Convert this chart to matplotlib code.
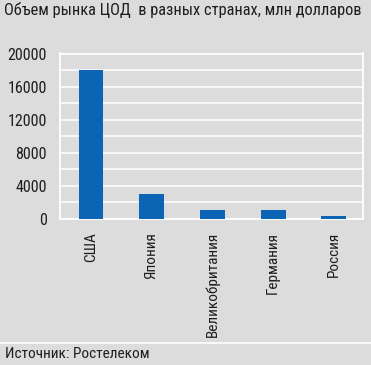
import matplotlib
matplotlib.use("Agg")
import matplotlib.pyplot as plt
import numpy as np

countries = ["США", "Япония", "Великобритания", "Германия", "Россия"]
values = [18000, 3000, 1050, 1050, 350]
yticks = [0, 4000, 8000, 12000, 16000, 20000]
title = "Объем рынка ЦОД  в разных странах, млн долларов"
source = "Источник: Ростелеком"

bg = "#dcdcdc"
bar_color = "#0b64b4"
txt = "#1e1e1e"
plt.rcParams['font.family'] = ['Roboto Condensed', 'PT Sans Narrow',
                               'Sofia Sans Condensed', 'DejaVu Sans']

fig = plt.figure(figsize=(3.71, 3.65), dpi=100, facecolor=bg)
ax = fig.add_axes([60/371, 1-219/365, 303/371, (219-53.5)/365])
ax.set_facecolor(bg)

x = np.arange(len(countries))
ax.bar(x, values, width=0.41, color=bar_color, zorder=3)

ax.set_xlim(-0.51, 4.48)
ax.set_ylim(0, 20000)
ax.set_yticks(yticks)
ax.set_yticks(np.arange(0, 20001, 2000), minor=True)
ax.grid(axis='y', which='both', color='white', linewidth=1.1, zorder=1)
ax.set_xticks(x)
ax.set_xticklabels(countries, rotation=90, fontsize=11, color=txt)
ax.tick_params(axis='y', labelsize=11.5, labelcolor=txt, length=0, pad=9.5, which='both')
ax.tick_params(axis='x', length=0, pad=9.5)
for s in ax.spines.values():
    s.set_color('white')
    s.set_linewidth(1.3)

fig.text(4/371, 1-10.5/365, title, fontsize=11.8, color=txt, va='center', ha='left')
fig.add_artist(plt.Line2D([0, 1], [1-342.5/365]*2, color='white', linewidth=1.2,
                          transform=fig.transFigure))
fig.text(5/371, 1-354.5/365, source, fontsize=11, color=txt, va='center', ha='left')

fig.savefig("out.png", dpi=100, facecolor=bg)
